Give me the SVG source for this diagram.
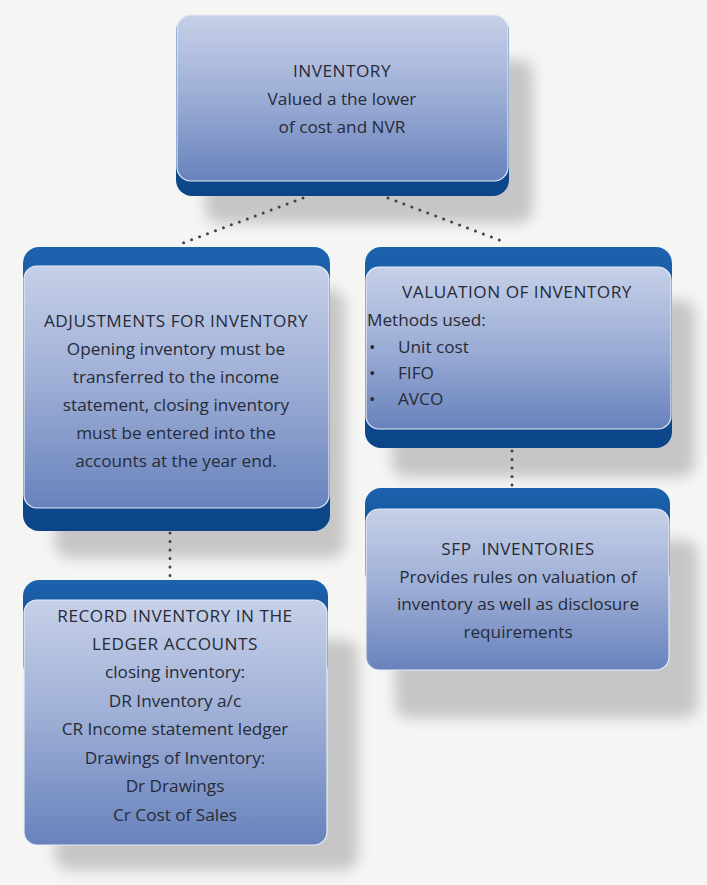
<svg xmlns="http://www.w3.org/2000/svg" width="707" height="885" viewBox="0 0 707 885">
<defs>
<linearGradient id="lightG" x1="0" y1="0" x2="0" y2="1">
<stop offset="0" stop-color="#c6d0e8"/>
<stop offset="0.5" stop-color="#9cadd5"/>
<stop offset="1" stop-color="#6882bc"/>
</linearGradient>
<linearGradient id="darkG" x1="0" y1="0" x2="0" y2="1">
<stop offset="0" stop-color="#1c62ad"/>
<stop offset="1" stop-color="#0b4588"/>
</linearGradient>
<filter id="blur" x="-20%" y="-20%" width="140%" height="140%">
<feGaussianBlur stdDeviation="7"/>
</filter>
</defs>
<style>
.shadow{fill:#c6c6c6;filter:url(#blur)}
.dark{fill:url(#darkG)}
.light{fill:url(#lightG);stroke:#e6ecf7;stroke-width:1.2}
text{font-family:"Open Sans","Liberation Sans",sans-serif;font-size:17.2px;fill:#262b38}
.c{text-anchor:middle}
.cap{letter-spacing:0.5px}
.dots{fill:none;stroke:#3b4252;stroke-width:3;stroke-linecap:round;stroke-dasharray:0 8.5}
</style>
<rect width="707" height="885" fill="#f5f5f3"/>

<g id="node-inventory">
<rect class="shadow" x="205" y="60" width="328" height="163" rx="14"/>
<rect class="dark" x="176" y="15" width="333" height="181" rx="16"/>
<rect class="light" x="177" y="15" width="331" height="166" rx="14"/>
<text class="c cap" x="342" y="77">INVENTORY</text>
<text class="c" x="342" y="105">Valued a the lower</text>
<text class="c" x="342" y="133">of cost and NVR</text>
</g>

<g id="node-adjustments">
<rect class="shadow" x="55" y="290" width="290" height="268" rx="14"/>
<rect class="dark" x="23" y="247" width="307" height="284" rx="16"/>
<rect class="light" x="24" y="266" width="305" height="242" rx="13"/>
<text class="c cap" x="176" y="327">ADJUSTMENTS FOR INVENTORY</text>
<text class="c" x="176" y="355">Opening inventory must be</text>
<text class="c" x="176" y="383">transferred to the income</text>
<text class="c" x="176" y="411">statement, closing inventory</text>
<text class="c" x="176" y="439">must be entered into the</text>
<text class="c" x="176" y="467">accounts at the year end.</text>
</g>

<g id="node-valuation">
<rect class="shadow" x="392" y="300" width="303" height="177" rx="14"/>
<rect class="dark" x="365" y="247" width="307" height="201" rx="16"/>
<rect class="light" x="366" y="267" width="305" height="162" rx="13"/>
<text class="c cap" x="517" y="298">VALUATION OF INVENTORY</text>
<text x="367" y="326">Methods used:</text>
<text x="369" y="353">•</text>
<text x="398" y="353">Unit cost</text>
<text x="369" y="379">•</text>
<text x="398" y="379">FIFO</text>
<text x="369" y="405">•</text>
<text x="398" y="405">AVCO</text>
</g>

<g id="node-sfp">
<rect class="shadow" x="395" y="540" width="303" height="178" rx="14"/>
<rect class="dark" x="365" y="488" width="305" height="100" rx="16"/>
<rect class="light" x="366" y="509" width="303" height="161" rx="13"/>
<text class="c cap" x="518" y="555" xml:space="preserve">SFP  INVENTORIES</text>
<text class="c" x="518" y="583">Provides rules on valuation of</text>
<text class="c" x="518" y="610">inventory as well as disclosure</text>
<text class="c" x="518" y="638">requirements</text>
</g>

<g id="node-record">
<rect class="shadow" x="55" y="640" width="303" height="230" rx="14"/>
<rect class="dark" x="23" y="580" width="305" height="100" rx="16"/>
<rect class="light" x="24" y="600" width="303" height="245" rx="13"/>
<text class="c cap" x="175" y="622">RECORD INVENTORY IN THE</text>
<text class="c cap" x="175" y="650">LEDGER ACCOUNTS</text>
<text class="c" x="175" y="678">closing inventory:</text>
<text class="c" x="175" y="707">DR Inventory a/c</text>
<text class="c" x="175" y="735">CR Income statement ledger</text>
<text class="c" x="175" y="764">Drawings of Inventory:</text>
<text class="c" x="175" y="792">Dr Drawings</text>
<text class="c" x="175" y="821">Cr Cost of Sales</text>
</g>

<g id="connectors">
<path class="dots" d="M303 198 L183 243"/>
<path class="dots" d="M388 198 L507 243"/>
<path class="dots" d="M170 533 L170 579"/>
<path class="dots" d="M512 451 L512 487"/>
</g>
</svg>
